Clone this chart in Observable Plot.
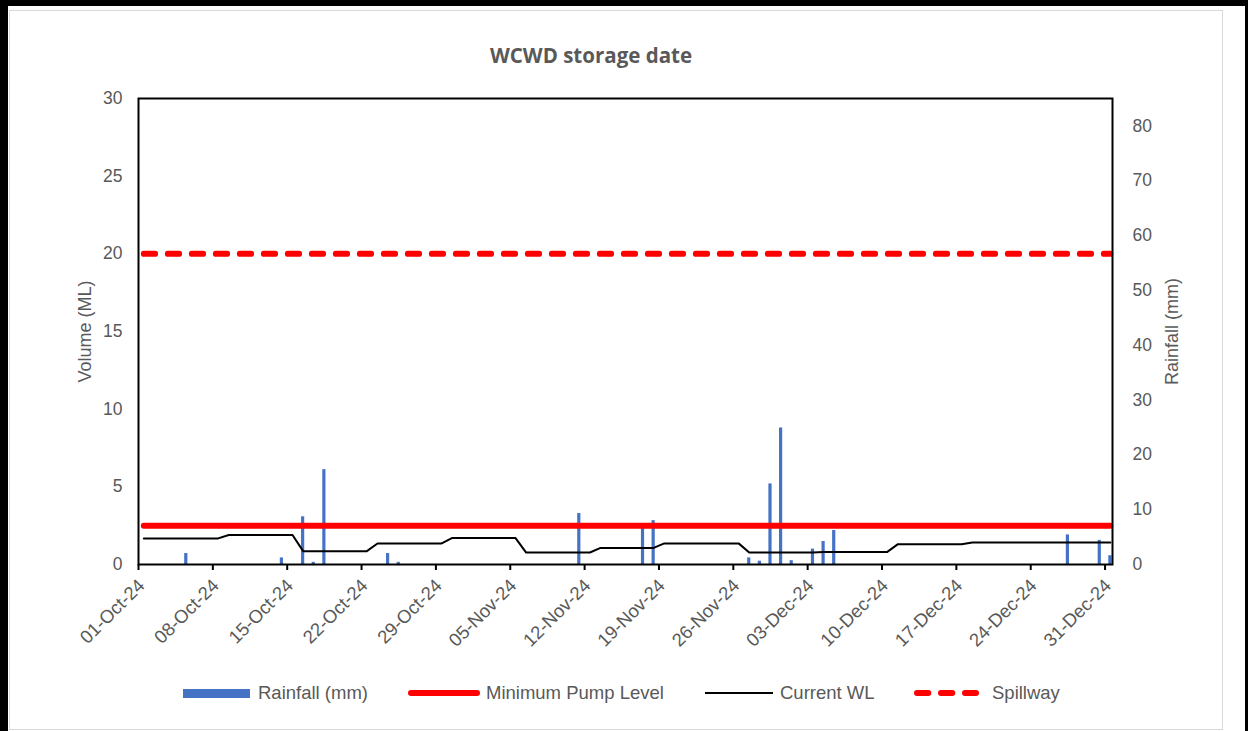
<!DOCTYPE html>
<html>
<head>
<meta charset="utf-8">
<script src="https://cdn.jsdelivr.net/npm/d3@7"></script>
<script src="https://cdn.jsdelivr.net/npm/@observablehq/plot@0.6"></script>
<style>
  html, body { margin: 0; padding: 0; background: #fff; }
  #page { position: relative; width: 1248px; height: 731px; overflow: hidden; background: #fff; font-family: "Liberation Sans", Arial, sans-serif; color: #595959; }
  .blk { position: absolute; background: #000; }
  #inner { position: absolute; left: 9px; top: 10px; width: 1212px; height: 718px; border: 1.5px solid #d9d9d9; }
  #title { position: absolute; left: 0; width: 1182px; top: 41px; text-align: center; font-family: "Open Sans", sans-serif; font-weight: 700; font-size: 20.5px; color: #595959; }
  #chart { position: absolute; left: 0; top: 80px; }
  #legend { position: absolute; left: 0; top: 680px; width: 1248px; height: 28px; }
</style>
</head>
<body>
<div id="page">
  <div class="blk" style="left:0;top:0;width:1248px;height:6px"></div>
  <div class="blk" style="left:0;top:0;width:8px;height:731px"></div>
  <div class="blk" style="left:1245px;top:0;width:3px;height:731px"></div>
  <div id="inner"></div>
  <div id="title">WCWD storage date</div>
  <div id="chart"></div>
  <svg id="legend" width="1248" height="28"></svg>
</div>
<script>
// ---- data ----
const startDate = "2024-10-01";
// Current water level (ML), one value per day, 01-Oct-24 .. 31-Dec-24
const currentWL = [
  1.68, 1.68, 1.68, 1.68, 1.68, 1.68, 1.68, 1.68,
  1.9, 1.9, 1.9, 1.9, 1.9, 1.9, 1.9,
  0.86, 0.86, 0.86, 0.86, 0.86, 0.86, 0.86,
  1.35, 1.35, 1.35, 1.35, 1.35, 1.35, 1.35,
  1.7, 1.7, 1.7, 1.7, 1.7, 1.7, 1.7,
  0.77, 0.77, 0.77, 0.77, 0.77, 0.77, 0.77,
  1.07, 1.07, 1.07, 1.07, 1.07, 1.07,
  1.36, 1.36, 1.36, 1.36, 1.36, 1.36, 1.36, 1.36,
  0.77, 0.77, 0.77, 0.77, 0.77, 0.77, 0.77,
  0.81, 0.81, 0.81, 0.81, 0.81, 0.81, 0.81,
  1.31, 1.31, 1.31, 1.31, 1.31, 1.31, 1.31,
  1.42, 1.42, 1.42, 1.42, 1.42, 1.42, 1.42, 1.42, 1.42, 1.42, 1.42, 1.42, 1.42, 1.42
];
const rainDates = ["2024-10-05","2024-10-14","2024-10-16","2024-10-17","2024-10-18","2024-10-24","2024-10-25",
  "2024-11-11","2024-11-17","2024-11-18","2024-11-27","2024-11-28","2024-11-29","2024-11-30",
  "2024-12-01","2024-12-03","2024-12-04","2024-12-05","2024-12-27","2024-12-30","2024-12-31"];
const rainMM = [2.0, 1.2, 8.7, 0.4, 17.3, 2.0, 0.4,
  9.3, 7.4, 8.0, 1.2, 0.6, 14.7, 24.9,
  0.7, 2.8, 4.2, 6.2, 5.4, 4.4, 1.6];
const minPumpLevel = 2.5;   // ML
const spillway = 20;        // ML
const volumeTicks = [0, 5, 10, 15, 20, 25, 30];
const rainTicks = [0, 10, 20, 30, 40, 50, 60, 70, 80];
const rainAxisMax = 85;     // mm at top of secondary axis
const xTickLabels = ["01-Oct-24","08-Oct-24","15-Oct-24","22-Oct-24","29-Oct-24","05-Nov-24","12-Nov-24",
  "19-Nov-24","26-Nov-24","03-Dec-24","10-Dec-24","17-Dec-24","24-Dec-24","31-Dec-24"];

// ---- build ----
const DAY = 864e5;
const t0 = new Date(startDate + "T00:00Z");
const parseLbl = d3.utcParse("%d-%b-%y");
const fmt = d3.utcFormat("%d-%b-%y");
const xTicks = xTickLabels.map(parseLbl);
const K = 30 / rainAxisMax;

const wlData = currentWL.map((v, i) => ({date: new Date(t0.getTime() + i * DAY + DAY / 2), v}));
const pumpData = wlData.map(d => ({date: d.date, v: minPumpLevel}));
const spillData = wlData.map(d => ({date: d.date, v: spillway}));
const rain = rainDates.map((s, i) => ({date: new Date(s + "T00:00Z"), mm: rainMM[i]}));

const chart = Plot.plot({
  width: 1248,
  height: 580,
  marginLeft: 138,
  marginRight: 136,
  marginTop: 18,
  marginBottom: 96,
  style: {fontFamily: "'Liberation Sans', Arial, sans-serif", fontSize: "17px", color: "#595959", background: "transparent", overflow: "visible"},
  x: {type: "utc", domain: [t0, new Date(t0.getTime() + 91.7 * DAY)]},
  y: {domain: [0, 30]},
  marks: [
    Plot.rectY(rain, {
      x1: d => new Date(d.date.getTime() + 0.35 * DAY),
      x2: d => new Date(d.date.getTime() + 0.65 * DAY),
      y: d => d.mm * K,
      fill: "#4472C4"
    }),
    Plot.line(spillData, {x: "date", y: "v", stroke: "#FF0000", strokeWidth: 6, strokeLinecap: "round", strokeDasharray: "11.3,12.7"}),
    Plot.line(pumpData, {x: "date", y: "v", stroke: "#FF0000", strokeWidth: 6, strokeLinecap: "round"}),
    Plot.line(wlData, {x: "date", y: "v", stroke: "#000", strokeWidth: 2}),
    Plot.frame({stroke: "#000", strokeWidth: 2}),
    Plot.axisX({ticks: xTicks, tickFormat: () => "", tickSize: 6, label: null, stroke: "#000", strokeWidth: 2}),
    Plot.axisX({ticks: xTicks, tickFormat: fmt, tickRotate: -45, tickSize: 0, tickPadding: 18, dx: 3, label: null, fontSize: 18.5}),
    Plot.axisY({ticks: volumeTicks, tickSize: 0, tickPadding: 16, label: null, fontSize: 17.5}),
    Plot.axisY(rainTicks.map(v => v * K), {anchor: "right", tickSize: 0, tickPadding: 20, textAnchor: "start", fontSize: 17.5, tickFormat: v => String(Math.round(v / K)), label: null}),
    Plot.text(["Volume (ML)"], {frameAnchor: "left", textAnchor: "middle", dx: -53, rotate: -90, fill: "#595959", fontSize: 18}),
    Plot.text(["Rainfall (mm)"], {frameAnchor: "right", textAnchor: "middle", dx: 60, rotate: -90, fill: "#595959", fontSize: 18})
  ]
});
document.getElementById("chart").appendChild(chart);

// ---- legend ----
const legendItems = [
  {label: "Rainfall (mm)", kind: "rect", x0: 183, x1: 250, tx: 258},
  {label: "Minimum Pump Level", kind: "thick", x0: 411, x1: 477, tx: 486},
  {label: "Current WL", kind: "thin", x0: 705, x1: 773, tx: 780},
  {label: "Spillway", kind: "dash", x0: 917, x1: 976, tx: 992}
];
const lg = d3.select("#legend");
const cy = 13;
for (const it of legendItems) {
  if (it.kind === "rect") lg.append("rect").attr("x", it.x0).attr("y", cy - 4).attr("width", it.x1 - it.x0).attr("height", 9).attr("fill", "#4472C4");
  if (it.kind === "thick") lg.append("line").attr("x1", it.x0).attr("x2", it.x1).attr("y1", cy).attr("y2", cy).attr("stroke", "#FF0000").attr("stroke-width", 6).attr("stroke-linecap", "round");
  if (it.kind === "thin") lg.append("line").attr("x1", it.x0).attr("x2", it.x1).attr("y1", cy).attr("y2", cy).attr("stroke", "#000").attr("stroke-width", 2);
  if (it.kind === "dash") lg.append("line").attr("x1", it.x0).attr("x2", it.x1).attr("y1", cy).attr("y2", cy).attr("stroke", "#FF0000").attr("stroke-width", 6).attr("stroke-linecap", "round").attr("stroke-dasharray", "11.3,12.7");
  lg.append("text").attr("x", it.tx).attr("y", cy).attr("dy", "0.35em").attr("fill", "#595959").style("font-family", "'Liberation Sans', Arial, sans-serif").style("font-size", "18.5px").text(it.label);
}
</script>
</body>
</html>
